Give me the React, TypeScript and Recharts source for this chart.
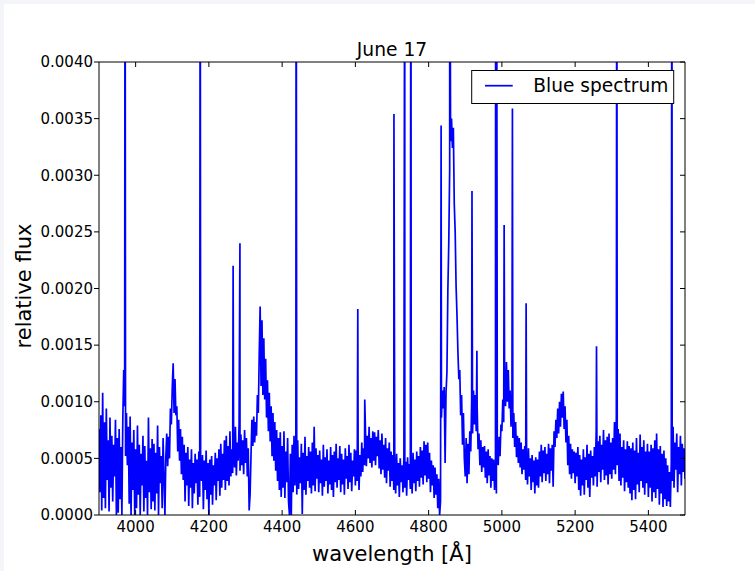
import React from "react";
import { LineChart, Line, XAxis, YAxis } from "recharts";

// Wavelength grid of the sampled continuum (Å)
const WL_START = 3900;
const WL_STEP = 2.5;

// Relative flux, in units of 1e-4, one row per 50 Å
const flux: number[] = [
  // 3900
  7.6, 2.0, 8.8, 0.4, 10.8, 1.5, 8.2, 0.6, 9.4, 3.1, 6.6, 0.3, 8.6, 2.4, 7.0, 1.2, 6.2, 3.4, 8.4, 0.0,
  // 3950
  6.8, 0.2, 7.6, 1.4, 6.0, 0.0, 8.4, 12.8, 9.6, 5.2, 9.0, 4.4, 7.8, 1.0, 8.7, 0.0, 6.4, 2.2, 7.5, 0.0,
  // 4000
  5.8, 0.6, 7.9, 1.8, 6.2, 0.0, 5.4, 2.6, 7.0, 0.3, 6.1, 1.5, 4.8, 0.0, 8.6, 2.0, 5.9, 0.5, 6.7, 1.2,
  // 4050
  6.3, 0.4, 5.5, 1.9, 7.9, 0.0, 6.0, 2.8, 5.2, 0.6, 6.8, 3.2, 0.0, 5.1, 7.2, 4.3, 6.9, 5.0, 9.4, 8.0,
  // 4100
  11.2, 13.4, 9.0, 12.0, 8.8, 9.6, 5.6, 8.4, 4.8, 7.6, 3.6, 6.9, 3.1, 6.2, 1.2, 5.5, 2.6, 6.0, 0.8, 4.9,
  // 4150
  2.4, 5.8, 0.6, 4.6, 1.9, 5.4, 2.8, 4.9, 0.9, 5.6, 1.6, 4.4, 3.0, 5.3, 0.5, 4.8, 2.2, 5.7, 1.4, 4.6,
  // 4200
  0.0, 4.9, 1.8, 5.2, 0.9, 4.4, 2.6, 5.5, 1.3, 5.0, 3.0, 5.8, 1.7, 6.3, 2.4, 5.4, 3.1, 6.6, 2.2, 7.0,
  // 4250
  3.0, 6.1, 2.6, 7.4, 3.4, 5.8, 3.7, 6.9, 4.2, 7.8, 3.5, 6.4, 4.8, 8.0, 3.9, 7.1, 4.4, 6.6, 3.6, 7.5,
  // 4300
  4.6, 6.8, 3.4, 5.9, 0.4, 1.8, 5.2, 8.4, 6.1, 8.7, 6.4, 8.2, 7.0, 10.6, 9.0, 14.2, 18.4, 11.4, 17.2, 10.6,
  // 4350
  15.6, 10.2, 13.8, 8.6, 11.9, 7.4, 10.8, 6.5, 9.6, 5.2, 9.0, 4.8, 8.2, 3.9, 7.5, 3.0, 6.8, 2.2, 7.3, 1.6,
  // 4400
  6.1, 2.4, 7.4, 1.5, 5.6, 2.9, 6.8, 1.2, 0.0, 5.4, 0.0, 6.2, 2.0, 7.0, 2.6, 5.8, 1.8, 6.6, 2.3, 5.1,
  // 4450
  2.8, 6.3, 0.1, 5.5, 2.2, 6.9, 1.8, 5.2, 3.0, 6.0, 2.4, 5.6, 1.9, 6.4, 2.6, 7.8, 2.1, 5.9, 3.2, 5.3,
  // 4500
  2.0, 5.7, 2.8, 4.9, 1.7, 6.2, 2.5, 5.1, 3.0, 5.8, 1.9, 4.8, 2.7, 6.0, 2.2, 5.3, 1.6, 5.6, 2.9, 6.3,
  // 4550
  2.4, 5.0, 3.1, 6.1, 2.0, 5.4, 2.7, 4.9, 1.8, 5.9, 3.2, 5.2, 2.3, 6.2, 2.9, 5.5, 2.1, 4.8, 3.4, 5.8,
  // 4600
  2.6, 5.7, 3.0, 6.0, 2.2, 5.3, 3.4, 6.4, 3.8, 5.9, 4.4, 7.6, 4.3, 7.0, 5.0, 7.8, 4.6, 6.8, 4.2, 7.4,
  // 4650
  4.8, 7.3, 4.4, 6.9, 5.2, 7.5, 4.1, 6.6, 3.6, 7.2, 4.0, 6.2, 3.3, 6.8, 2.8, 5.9, 3.9, 6.4, 2.5, 5.6,
  // 4700
  3.0, 5.3, 2.2, 4.8, 1.9, 5.4, 2.6, 4.6, 1.6, 5.0, 2.9, 4.4, 2.0, 5.2, 2.4, 4.7, 1.7, 5.1, 3.1, 4.5,
  // 4750
  2.3, 5.0, 1.9, 5.5, 2.8, 4.9, 2.1, 5.6, 3.0, 5.2, 2.5, 6.0, 3.3, 5.7, 2.7, 6.5, 3.5, 6.2, 2.9, 6.4,
  // 4800
  3.2, 5.5, 2.0, 4.8, 2.6, 4.4, 1.5, 4.2, 1.8, 3.6, 0.6, 3.2, 0.0, 1.2, 8.6, 11.0, 9.4, 11.3, 4.6, 10.8,
  // 4850
  12.6, 19.8, 24.0, 30.5, 33.0, 35.0, 32.4, 34.2, 27.5, 25.0, 20.2, 17.6, 14.4, 12.0, 12.8, 8.8, 10.6, 6.2, 9.0, 5.0,
  // 4900
  3.4, 6.8, 2.8, 6.3, 3.6, 7.4, 5.6, 10.0, 7.2, 11.0, 8.0, 10.6, 7.4, 9.6, 5.8, 7.2, 4.4, 6.6, 3.8, 6.0,
  // 4950
  4.2, 6.1, 3.3, 5.6, 2.8, 5.8, 3.5, 5.2, 2.4, 5.0, 3.0, 4.9, 2.2, 4.6, 1.9, 5.4, 4.4, 6.9, 5.2, 8.0,
  // 5000
  7.4, 10.2, 8.2, 11.6, 9.6, 13.5, 10.0, 12.8, 9.4, 11.0, 7.8, 10.4, 6.8, 9.0, 6.0, 8.2, 5.1, 7.0, 4.6, 6.8,
  // 5050
  4.2, 6.4, 3.6, 5.8, 4.0, 6.1, 3.1, 5.5, 2.7, 5.9, 3.4, 5.0, 2.2, 5.3, 2.9, 4.8, 1.9, 5.1, 2.6, 4.9,
  // 5100
  2.4, 5.6, 3.4, 6.2, 2.9, 5.7, 3.7, 6.0, 3.0, 5.4, 3.6, 6.3, 2.8, 5.9, 3.9, 6.2, 2.5, 7.4, 6.0, 8.4,
  // 5150
  6.8, 9.4, 7.2, 10.0, 7.8, 10.7, 8.6, 10.9, 7.6, 9.6, 6.4, 8.4, 4.4, 7.0, 3.6, 6.3, 3.2, 5.8, 3.7, 5.6,
  // 5200
  2.8, 5.5, 3.4, 6.0, 2.2, 5.3, 1.7, 4.9, 2.6, 5.8, 1.8, 5.1, 3.1, 6.2, 2.4, 5.4, 1.6, 5.7, 3.3, 5.2,
  // 5250
  2.6, 6.0, 3.4, 7.4, 2.5, 6.5, 3.8, 7.0, 2.9, 6.2, 4.0, 7.5, 3.1, 6.6, 3.5, 6.9, 2.7, 7.2, 3.6, 6.4,
  // 5300
  3.2, 6.8, 4.0, 8.2, 3.6, 8.6, 4.4, 7.6, 3.0, 7.2, 2.6, 6.0, 3.3, 6.6, 2.1, 5.8, 2.9, 6.5, 2.4, 6.1,
  // 5350
  1.9, 5.9, 1.3, 6.4, 2.2, 5.7, 1.4, 6.8, 2.7, 5.5, 2.0, 7.1, 3.0, 6.0, 2.4, 6.6, 1.8, 5.6, 2.8, 6.3,
  // 5400
  1.6, 5.6, 2.4, 6.2, 1.2, 5.9, 2.0, 6.6, 1.5, 7.2, 2.3, 5.8, 0.9, 6.1, 1.9, 5.4, 0.7, 5.7, 1.4, 5.0,
  // 5450
  0.8, 4.4, 1.2, 3.8, 0.7, 4.6, 3.0, 7.8, 2.4, 6.4, 4.0, 7.2, 2.0, 6.0, 3.6, 7.0, 2.6, 6.3, 3.8, 5.9,
  // 5500
  3.2,
];

// Narrow emission spikes: wavelength (Å) and peak flux (1e-4); 60 = off the top of the axes
const spikeWavelengths: number[] = [
  3971.2, 4176.3, 4266.2, 4284.8, 4438.3, 4606.6, 4625.6, 4705.3, 4734.8, 4751.6, 4834.1,
  4857.6, 4918.4, 4931.8, 4983.1, 4985.6, 5006.2, 5028.8, 5066.2, 5258.4, 5313.8, 5464.3,
];
const spikeFlux: number[] = [
  60, 60, 22.0, 24.0, 60, 18.2, 10.2, 35.4, 60, 60, 34.4,
  60, 28.6, 14.5, 60, 60, 25.6, 35.9, 18.7, 14.9, 60, 60,
];

const xTicks: number[] = [4000, 4200, 4400, 4600, 4800, 5000, 5200, 5400];
const yTicks: number[] = [0, 0.0005, 0.001, 0.0015, 0.002, 0.0025, 0.003, 0.0035, 0.004];

const UNIT = 1e-4;
const data = [
  ...flux.map((v, i) => ({ w: WL_START + i * WL_STEP, f: v * UNIT })),
  ...spikeWavelengths.map((w, i) => ({ w, f: spikeFlux[i] * UNIT })),
].sort((a, b) => a.w - b.w);

const FONT = "'DejaVu Sans', Verdana, sans-serif";

const BottomTick = (props: any) => {
  const { x, y, payload } = props;
  return (
    <g>
      <line x1={x} y1={y} x2={x} y2={y - 5} stroke="#000" strokeWidth={1} />
      <text x={x} y={y + 16.5} textAnchor="middle" fontSize={15} fontFamily={FONT} fill="#000">
        {payload.value}
      </text>
    </g>
  );
};

const TopTick = (props: any) => {
  const { x, y } = props;
  return <line x1={x} y1={y} x2={x} y2={y + 5} stroke="#000" strokeWidth={1} />;
};

const RightTick = (props: any) => {
  const { x, y } = props;
  return <line x1={x} y1={y} x2={x - 5} y2={y} stroke="#000" strokeWidth={1} />;
};

export default function App() {
  return (
    <div
      style={{
        position: "absolute",
        left: 0,
        top: 0,
        width: 755,
        height: 571,
        background: "#f3f5f9",
        overflow: "hidden",
      }}
    >
      <div style={{ position: "absolute", left: 4, top: 4, width: 751, height: 567, background: "#fff" }} />
      <div style={{ position: "absolute", left: 0, top: 0 }}>
        <LineChart width={755} height={571} data={data} margin={{ top: 61, right: 69, bottom: 26, left: 39 }}>
          <XAxis
            xAxisId="b"
            dataKey="w"
            type="number"
            domain={[3900, 5500]}
            ticks={xTicks}
            allowDataOverflow
            height={30}
            stroke="#000"
            tickSize={0}
            tickMargin={0}
            tickLine={false}
            tick={<BottomTick />}
            interval={0}
          />
          <XAxis
            xAxisId="t"
            orientation="top"
            dataKey="w"
            type="number"
            domain={[3900, 5500]}
            ticks={xTicks}
            allowDataOverflow
            height={1}
            stroke="#000"
            tickSize={0}
            tickMargin={0}
            tickLine={false}
            tick={<TopTick />}
            interval={0}
          />
          <YAxis
            yAxisId="l"
            type="number"
            domain={[0, 0.004]}
            ticks={yTicks}
            allowDataOverflow
            width={60}
            stroke="#000"
            tickSize={5}
            tickMargin={1}
            interval={0}
            tickFormatter={(v: number) => v.toFixed(4)}
            tick={{ fontSize: 15, fontFamily: FONT, fill: "#000" }}
          />
          <YAxis
            yAxisId="r"
            orientation="right"
            type="number"
            domain={[0, 0.004]}
            ticks={yTicks}
            allowDataOverflow
            width={1}
            stroke="#000"
            tickSize={0}
            tickMargin={0}
            tickLine={false}
            tick={<RightTick />}
            interval={0}
          />
          <Line
            xAxisId="b"
            yAxisId="l"
            type="linear"
            dataKey="f"
            stroke="#0000ff"
            strokeWidth={1.7}
            strokeLinejoin="miter"
            dot={false}
            activeDot={false}
            isAnimationActive={false}
            name="Blue spectrum"
          />
        </LineChart>
      </div>
      <svg
        width={755}
        height={571}
        style={{ position: "absolute", left: 0, top: 0, pointerEvents: "none" }}
        fontFamily={FONT}
      >
        <text x={392} y={55.7} textAnchor="middle" fontSize={18.7} fill="#000">
          June 17
        </text>
        <text x={392} y={561} textAnchor="middle" fontSize={21} fill="#000">
          wavelength [Å]
        </text>
        <text
          x={0}
          y={0}
          transform="translate(30.7 286) rotate(-90)"
          textAnchor="middle"
          fontSize={21}
          fill="#000"
        >
          relative flux
        </text>
        <g>
          <rect x={471.7} y={70.5} width={202} height={33} fill="#fff" stroke="#000" strokeWidth={1} />
          <line x1={485} y1={85.7} x2={512.7} y2={85.7} stroke="#0000ff" strokeWidth={1.7} />
          <text x={533.3} y={92.3} fontSize={18.6} fill="#000">
            Blue spectrum
          </text>
        </g>
      </svg>
    </div>
  );
}
